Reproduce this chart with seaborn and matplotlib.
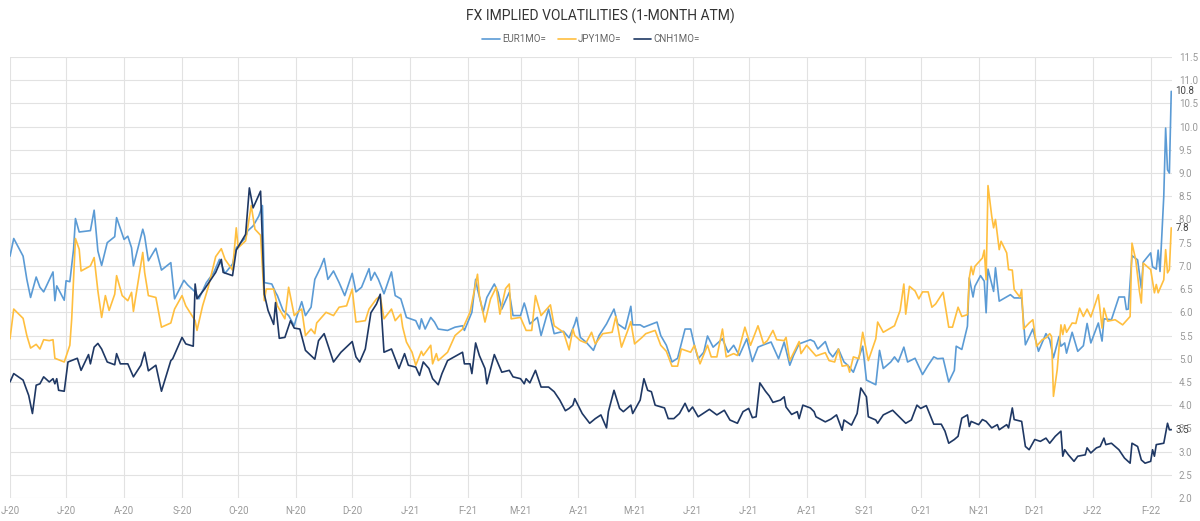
import pandas as pd
import numpy as np
import matplotlib
matplotlib.use('Agg')
import matplotlib.pyplot as plt
import matplotlib.dates as mdates
from matplotlib.ticker import FuncFormatter
import seaborn as sns

start = pd.Timestamp('2020-06-01')

# (days since 1 Jun 2020, 1-month ATM implied vol)
eur1mo = [(0, 7.21), (2, 7.59), (7, 7.21), (9, 6.71), (11, 6.32), (14, 6.76), (16, 6.54), (18, 6.44),
          (23, 6.87), (24, 6.25), (25, 6.57), (29, 6.26), (30, 6.68), (32, 6.66), (34, 7.36), (35, 8.02),
          (37, 7.73), (43, 7.76), (45, 8.2), (47, 7.32), (49, 7.01), (52, 7.5), (56, 7.63), (57, 8.04),
          (61, 7.57), (63, 7.64), (65, 7.39), (66, 7.0), (71, 7.79), (72, 7.64), (74, 7.11), (78, 7.38),
          (81, 6.91), (86, 7.07), (88, 6.29), (93, 6.69), (95, 6.59), (99, 6.44), (101, 6.29),
          (105, 6.64), (109, 6.86), (112, 7.14), (115, 6.84), (119, 7.04), (121, 7.39), (126, 7.61),
          (127, 7.75), (130, 7.86), (133, 8.07), (135, 8.3), (136, 6.64), (140, 6.61), (142, 6.43),
          (143, 6.36), (146, 6.04), (149, 5.93), (152, 5.71), (153, 5.86), (156, 6.23), (158, 5.93),
          (161, 6.11), (163, 6.71), (166, 6.96), (168, 7.16), (170, 6.71), (173, 6.89), (176, 6.64),
          (179, 6.36), (183, 6.84), (185, 6.44), (188, 6.54), (192, 6.94), (193, 6.69), (195, 6.86),
          (197, 6.71), (200, 6.4), (204, 6.87), (206, 6.36), (209, 6.29), (212, 5.89), (217, 5.82),
          (219, 5.64), (220, 5.86), (222, 5.64), (225, 5.89), (227, 5.79), (229, 5.64), (234, 5.61),
          (238, 5.68), (242, 5.71), (243, 5.61), (247, 6.0), (249, 6.71), (250, 6.5), (253, 6.0),
          (255, 6.32), (259, 6.61), (261, 6.43), (263, 6.07), (267, 6.43), (269, 5.93), (273, 5.93),
          (275, 6.2), (276, 6.07), (278, 5.75), (282, 5.89), (284, 5.5), (288, 6.07), (291, 5.54),
          (296, 5.59), (299, 5.45), (302, 5.75), (303, 5.89), (305, 5.46), (308, 5.36), (312, 5.18),
          (315, 5.5), (319, 5.75), (323, 6.07), (325, 5.75), (329, 5.64), (332, 6.13), (333, 5.73),
          (337, 5.73), (339, 5.68), (346, 5.79), (348, 5.5), (351, 5.29), (354, 4.93), (357, 5.01),
          (361, 5.64), (364, 5.64), (366, 5.29), (368, 5.0), (371, 5.14), (373, 5.49), (376, 5.25),
          (381, 5.43), (384, 5.14), (387, 5.29), (390, 5.07), (394, 5.43), (397, 4.94), (400, 5.25),
          (403, 5.3), (407, 5.36), (411, 5.0), (414, 5.36), (417, 4.86), (419, 5.07), (422, 5.32),
          (428, 5.41), (430, 5.37), (432, 5.21), (436, 5.37), (438, 5.14), (440, 5.04), (443, 5.21),
          (446, 4.93), (448, 4.86), (451, 4.71), (454, 5.04), (456, 5.27), (458, 4.54), (463, 4.44),
          (465, 5.18), (467, 4.79), (471, 4.93), (473, 5.04), (475, 4.93), (478, 5.25), (480, 4.93),
          (484, 5.01), (488, 4.66), (491, 4.86), (494, 5.04), (496, 5.0), (499, 5.01), (502, 4.5),
          (505, 4.75), (506, 5.27), (509, 5.2), (512, 5.7), (513, 6.74), (515, 6.33), (516, 6.56),
          (519, 6.79), (521, 6.67), (522, 5.99), (523, 6.93), (526, 6.45), (527, 6.96), (529, 6.24),
          (535, 6.38), (537, 6.31), (541, 6.31), (543, 5.3), (547, 5.64), (550, 5.16), (554, 5.54),
          (556, 5.41), (558, 5.02), (561, 5.48), (562, 5.27), (564, 5.34), (565, 5.12), (568, 5.57),
          (571, 5.16), (574, 5.28), (576, 5.76), (578, 5.34), (582, 5.77), (584, 5.38), (585, 5.86),
          (589, 5.84), (593, 6.33), (596, 6.33), (597, 6.06), (598, 6.07), (600, 7.22), (603, 7.13),
          (605, 6.52), (606, 7.08), (610, 7.28), (611, 6.98), (613, 6.93), (614, 7.34), (615, 6.88),
          (617, 8.5), (618, 9.97), (619, 9.07), (620, 9.0), (621, 10.76)]

jpy1mo = [(0, 5.43), (2, 6.07), (7, 5.87), (9, 5.5), (11, 5.23), (14, 5.31), (16, 5.21), (18, 5.41),
          (21, 5.39), (23, 5.41), (24, 5.01), (29, 4.93), (32, 5.29), (33, 5.86), (35, 7.59), (37, 7.36),
          (38, 6.89), (43, 7.0), (45, 7.18), (47, 6.46), (49, 5.89), (51, 6.36), (53, 6.04), (56, 6.39),
          (57, 6.79), (60, 6.36), (63, 6.25), (65, 6.43), (66, 6.02), (71, 7.29), (72, 6.86), (74, 6.36),
          (78, 6.32), (81, 5.68), (86, 5.77), (88, 6.07), (92, 6.36), (94, 6.14), (99, 5.82), (100, 5.61),
          (103, 6.14), (106, 6.54), (110, 7.2), (113, 7.37), (115, 7.14), (119, 6.91), (121, 7.82),
          (122, 7.39), (126, 7.54), (129, 8.3), (131, 7.79), (134, 7.66), (136, 6.25), (137, 6.5),
          (141, 6.5), (143, 6.14), (147, 5.86), (149, 6.54), (152, 5.93), (154, 6.01), (156, 6.07),
          (158, 5.5), (161, 5.64), (163, 5.54), (164, 5.77), (169, 6.0), (173, 5.93), (176, 6.11),
          (180, 6.14), (183, 6.5), (185, 5.79), (190, 5.82), (192, 6.07), (196, 6.29), (198, 6.35),
          (200, 5.86), (204, 6.07), (206, 5.82), (209, 5.96), (210, 5.68), (212, 5.36), (215, 5.14),
          (217, 4.86), (220, 5.16), (221, 5.07), (225, 5.29), (226, 4.89), (228, 5.11), (229, 4.96),
          (234, 5.14), (238, 5.5), (242, 5.64), (246, 6.0), (250, 6.82), (251, 6.36), (254, 5.79),
          (257, 6.29), (260, 6.54), (262, 5.96), (265, 6.51), (267, 6.61), (268, 5.86), (273, 5.89),
          (276, 5.61), (279, 5.61), (281, 6.36), (284, 5.93), (289, 6.16), (291, 5.71), (296, 5.57),
          (299, 5.19), (301, 5.64), (302, 5.5), (305, 5.39), (308, 5.34), (311, 5.57), (313, 5.32),
          (317, 5.54), (322, 5.57), (324, 5.91), (327, 5.25), (330, 5.57), (332, 5.8), (334, 5.32),
          (338, 5.46), (340, 5.54), (345, 5.61), (348, 5.29), (351, 5.16), (354, 4.84), (357, 4.84),
          (359, 5.21), (364, 5.14), (366, 5.29), (369, 4.89), (373, 5.29), (375, 5.04), (378, 5.04),
          (381, 5.64), (383, 5.04), (387, 5.11), (389, 5.07), (393, 5.68), (396, 5.29), (400, 5.71),
          (403, 5.32), (405, 5.39), (408, 5.61), (410, 5.41), (414, 5.39), (415, 5.46), (417, 4.96),
          (422, 5.37), (423, 5.11), (426, 5.29), (431, 5.06), (436, 5.13), (438, 4.96), (441, 4.93),
          (443, 5.21), (445, 4.84), (448, 4.86), (449, 4.71), (451, 5.04), (454, 5.0), (456, 5.57),
          (459, 4.96), (463, 5.43), (464, 5.79), (467, 5.57), (473, 5.71), (476, 6.04), (478, 6.61),
          (479, 5.96), (481, 6.56), (484, 6.46), (486, 6.29), (488, 6.44), (491, 6.44), (493, 6.11),
          (495, 6.18), (499, 6.43), (502, 5.68), (504, 5.68), (507, 6.11), (509, 5.91), (512, 5.95),
          (513, 6.74), (514, 6.99), (515, 6.81), (516, 6.99), (520, 7.17), (521, 7.34), (522, 6.7),
          (523, 8.73), (525, 8.07), (526, 7.82), (527, 8.0), (529, 7.35), (530, 7.53), (533, 7.28),
          (534, 6.92), (536, 6.91), (537, 6.49), (540, 6.33), (541, 6.49), (542, 5.64), (545, 5.77),
          (547, 5.84), (549, 5.27), (552, 5.41), (554, 5.45), (556, 5.54), (557, 5.48), (558, 4.19),
          (560, 4.76), (562, 5.73), (563, 5.52), (564, 5.73), (565, 5.57), (568, 5.77), (570, 5.76),
          (572, 6.09), (574, 5.91), (576, 6.07), (578, 5.9), (582, 6.38), (584, 5.66), (585, 6.09),
          (587, 5.81), (591, 5.84), (595, 5.73), (599, 5.91), (600, 7.49), (602, 7.13), (604, 6.45),
          (605, 6.2), (606, 7.06), (610, 6.92), (612, 6.42), (613, 6.6), (614, 6.42), (617, 6.7),
          (618, 7.35), (619, 6.85), (620, 6.92), (621, 7.82)]

cnh1mo = [(0, 4.5), (2, 4.68), (7, 4.54), (10, 4.21), (12, 3.82), (14, 4.43), (16, 4.46), (18, 4.61),
          (21, 4.5), (23, 4.57), (24, 4.46), (25, 4.57), (26, 4.32), (29, 4.3), (31, 4.93), (36, 5.01),
          (38, 4.75), (42, 5.09), (43, 4.89), (45, 5.25), (47, 5.33), (49, 5.21), (52, 4.93), (56, 4.87),
          (57, 5.11), (59, 4.89), (63, 4.89), (66, 4.61), (70, 4.86), (72, 5.14), (74, 4.74), (78, 4.86),
          (81, 4.3), (86, 4.96), (87, 5.0), (92, 5.46), (94, 5.32), (98, 5.27), (99, 6.61), (100, 6.29),
          (104, 6.5), (110, 6.86), (113, 7.14), (114, 6.86), (119, 6.79), (121, 7.34), (126, 7.68),
          (128, 8.68), (130, 8.25), (134, 8.61), (136, 6.39), (138, 6.04), (141, 5.74), (142, 6.21),
          (144, 5.44), (147, 5.46), (150, 5.82), (152, 5.66), (155, 5.64), (158, 5.18), (163, 4.99),
          (165, 5.39), (168, 5.54), (173, 4.93), (177, 5.14), (183, 5.37), (185, 5.04), (187, 4.93),
          (190, 5.21), (193, 5.99), (196, 6.18), (198, 6.39), (200, 5.14), (204, 5.21), (208, 4.79),
          (211, 5.11), (213, 4.86), (217, 4.82), (219, 4.64), (221, 4.93), (224, 4.79), (226, 4.57),
          (229, 4.44), (231, 4.68), (234, 4.96), (242, 5.14), (243, 4.89), (246, 4.89), (247, 4.68),
          (249, 5.34), (251, 5.07), (254, 4.79), (255, 4.46), (259, 5.09), (263, 4.71), (267, 4.75),
          (269, 4.61), (273, 4.57), (275, 4.46), (276, 4.57), (278, 4.48), (281, 4.75), (284, 4.39),
          (288, 4.39), (291, 4.29), (294, 4.11), (297, 3.88), (299, 3.93), (301, 4.0), (302, 4.14),
          (306, 3.82), (310, 3.61), (313, 3.71), (316, 3.79), (319, 3.51), (320, 3.86), (323, 4.32),
          (326, 3.93), (328, 3.86), (332, 4.0), (333, 3.82), (337, 4.11), (339, 4.57), (341, 4.32),
          (343, 4.29), (345, 4.0), (350, 3.94), (352, 3.71), (355, 3.71), (358, 3.82), (361, 4.04),
          (363, 3.86), (365, 3.96), (368, 3.75), (374, 3.91), (378, 3.79), (382, 3.89), (385, 3.68),
          (389, 3.61), (392, 3.86), (395, 3.93), (397, 3.73), (399, 3.75), (401, 4.48), (404, 4.3),
          (406, 4.2), (408, 4.06), (412, 4.11), (414, 4.18), (415, 3.96), (418, 3.8), (421, 3.86),
          (422, 3.71), (424, 4.0), (428, 3.94), (430, 3.86), (431, 3.75), (436, 3.64), (439, 3.7),
          (442, 3.79), (445, 3.46), (446, 3.68), (450, 3.57), (453, 3.82), (455, 4.37), (458, 4.18),
          (459, 3.75), (463, 3.68), (464, 3.61), (467, 3.79), (472, 3.89), (476, 3.73), (479, 3.61),
          (482, 3.68), (485, 4.0), (487, 3.93), (490, 3.99), (494, 3.59), (498, 3.59), (500, 3.44),
          (502, 3.18), (505, 3.26), (507, 3.33), (509, 3.72), (512, 3.79), (513, 3.54), (514, 3.65),
          (518, 3.58), (520, 3.69), (522, 3.65), (525, 3.51), (528, 3.58), (529, 3.47), (533, 3.58),
          (534, 3.51), (536, 3.94), (537, 3.69), (541, 3.65), (543, 3.11), (545, 3.04), (548, 3.26),
          (551, 3.22), (554, 3.29), (556, 3.18), (559, 3.33), (562, 3.44), (563, 2.9), (564, 3.04),
          (566, 2.93), (569, 2.79), (571, 2.9), (575, 2.93), (576, 3.08), (578, 2.97), (581, 3.08),
          (583, 3.11), (585, 3.29), (586, 3.15), (589, 3.18), (593, 3.04), (596, 2.86), (599, 2.75),
          (600, 3.18), (603, 3.11), (605, 2.82), (607, 2.75), (610, 2.79), (611, 3.04), (612, 2.9),
          (613, 3.15), (617, 3.18), (619, 3.61), (620, 3.47), (621, 3.47)]

series_names = ['EUR1MO=', 'JPY1MO=', 'CNH1MO=']
series_colors = ['#5B9BD5', '#FFBF3F', '#1F3864']
y_ticks = np.arange(2.0, 11.51, 0.5)
title = 'FX IMPLIED VOLATILITIES (1-MONTH ATM)'

frames = []
for name, pts in zip(series_names, [eur1mo, jpy1mo, cnh1mo]):
    d = pd.DataFrame(pts, columns=['day', 'vol'])
    d['date'] = start + pd.to_timedelta(d['day'], unit='D')
    d['ric'] = name
    frames.append(d)
df = pd.concat(frames, ignore_index=True)

sns.set_theme(style='whitegrid')
plt.rcParams['font.family'] = ['Roboto', 'DejaVu Sans']

fig = plt.figure(figsize=(12, 5.21), dpi=100)
ax = fig.add_axes([10 / 1200, 23 / 521, 1162 / 1200, 441 / 521])

sns.lineplot(data=df, x='date', y='vol', hue='ric', palette=dict(zip(series_names, series_colors)),
             estimator=None, sort=True, linewidth=1.2, ax=ax)

ax.set_xlim(start, start + pd.Timedelta(days=621.4))
ax.set_ylim(2.0, 11.5)
ax.set_yticks(y_ticks)
ax.yaxis.tick_right()
ax.yaxis.set_major_formatter(FuncFormatter(lambda v, p: f'{v:.1f}'))
ax.xaxis.set_major_locator(mdates.MonthLocator())
ax.xaxis.set_major_formatter(FuncFormatter(
    lambda v, p: mdates.num2date(v).strftime('%b')[0] + '-' + mdates.num2date(v).strftime('%y')))
ax.tick_params(axis='both', length=0, labelsize=7, colors='#999999')
ax.tick_params(axis='y', pad=5)
ax.tick_params(axis='x', pad=6)
ax.grid(color='#e2e2e2', linewidth=0.8)
for s in ax.spines.values():
    s.set_visible(False)
ax.set_xlabel('')
ax.set_ylabel('')

# last value labels at the right end of each line
for name in series_names:
    last = df[df['ric'] == name].iloc[-1]
    ax.annotate(f"{last['vol']:.1f}", xy=(last['date'], last['vol']), xytext=(3, 0),
                textcoords='offset points', va='center', ha='left', fontsize=7,
                color='#444444', annotation_clip=False)

sns.move_legend(ax, 'center', bbox_to_anchor=(0.5, 1.0406), ncol=3, frameon=False, title=None,
                fontsize=7, handlelength=1.8, handletextpad=0.2, columnspacing=1.3)
for t in ax.get_legend().get_texts():
    t.set_color('#666666')

fig.text(0.5, 1 - 16 / 521, title, ha='center', va='center', fontsize=10, color='#333333')

fig.savefig('out.png', dpi=100)
